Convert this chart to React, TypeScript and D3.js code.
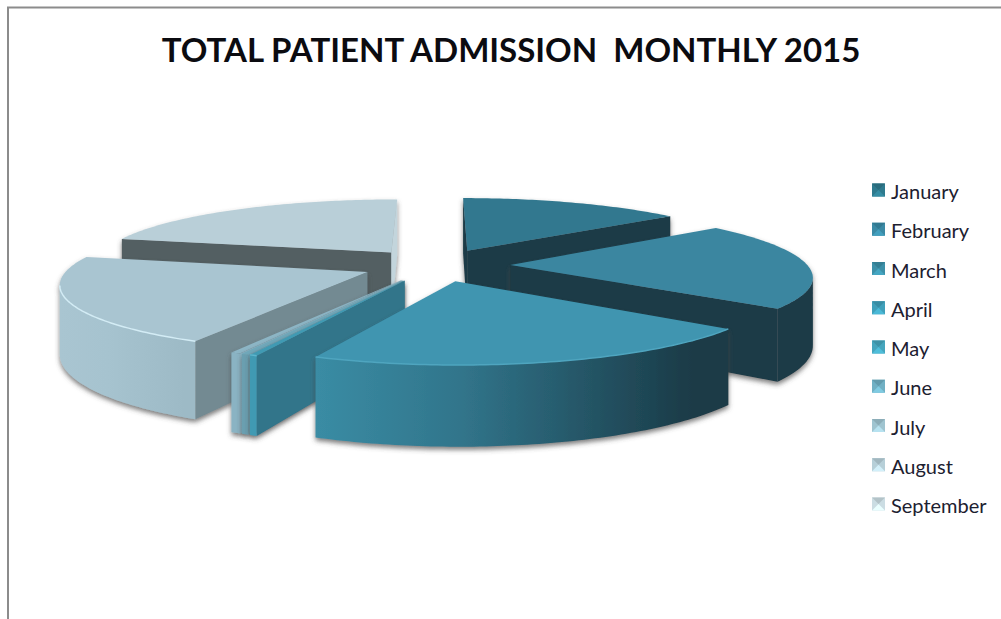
import React from "react";
import * as d3 from "d3";

const months = ["January", "February", "March", "April", "May", "June", "July", "August", "September"];
const admissions = [51.5, 76, 75.5, 1.2, 1.2, 1.6, 76, 76.5, 0];

const topColors = ["#33788f", "#3b86a0", "#3f95b0", "#3f9ab3", "#6fa8ba", "#8db6c6", "#a9c5d1", "#b9cfd8", "#ccdde3"];
const startCutColors = ["#1a3a46", "#1a3a46", "#1a3a46", "#31748a", "#6b9fb0", "#8ab3c3", "#738a92", "#535e62", "#9fb2b9"];
const endCutColors = ["#1a3a46", "#1a3a46", "#1a3a46", "#31748a", "#6b9fb0", "#8ab3c3", "#738a92", "#c3d5dc", "#c3d5dc"];
const rimStops = [
  ["#1a3a46", "#1a3a46", "#1a3a46"],
  ["#1a3a46", "#1a3a46", "#1a3a46"],
  ["#3a8ca4", "#31758b", "#1a3a46"],
  ["#3f9ab3", "#3f9ab3", "#3f9ab3"],
  ["#6b9fb0", "#6b9fb0", "#6b9fb0"],
  ["#8ab3c3", "#8ab3c3", "#8ab3c3"],
  ["#a9c5d1", "#a6c3cf", "#9dbac6"],
  ["#b9cfd8", "#b9cfd8", "#b9cfd8"],
  ["#ccdde3", "#ccdde3", "#ccdde3"],
];
const rimEdges = [null, null, "#4fa5bf", "#5db4cc", null, null, "#d3ecf5", null, null];
const keyColors = ["#2f7a8e", "#3a8aa5", "#3c90a8", "#41a0ba", "#45a5bd", "#6fb0c4", "#9fc4d0", "#b6cfd8", "#cbdde3"];

const width = 1001;
const height = 619;
const explode = 0.25;
const perspective = 0.155;
const thickness = 66;

const xScale = d3.scaleLinear().domain([-1, 1]).range([139, 733]);
const yScale = d3.scaleLinear().domain([-1, 1]).range([200, 330]);
const legendY = d3.scalePoint().domain(months).range([192, 506]);

const line = d3.line();

function project(x: number, y: number): [number, number] {
  const s = 1 / (1 - perspective * y);
  return [xScale(x * s), yScale(y * s)];
}

function drop(x: number, y: number): [number, number] {
  const [px, py] = project(x, y);
  return [px, py + thickness / (1 - perspective * y)];
}

// a wall hanging below one edge of the top face
function wall(pts: [number, number][]) {
  const top = pts.map((p) => project(p[0], p[1]));
  const bottom = pts.map((p) => drop(p[0], p[1])).reverse();
  return line([...top, ...bottom]) + "Z";
}

const pie = d3.pie<number>().sort(null).startAngle(0).endAngle(2 * Math.PI);

function buildSlices() {
  return pie(admissions)
    .map((arc, i) => {
      const mid = (arc.startAngle + arc.endAngle) / 2;
      const ox = explode * Math.sin(mid);
      const oy = -explode * Math.cos(mid);
      const apex: [number, number] = [ox, oy];
      const steps = Math.max(2, Math.ceil((arc.endAngle - arc.startAngle) * 60));
      const rim: [number, number][] = d3
        .range(steps + 1)
        .map((k) => arc.startAngle + ((arc.endAngle - arc.startAngle) * k) / steps)
        .map((a) => [ox + Math.sin(a), oy - Math.cos(a)]);
      const sx = (p: [number, number]) => project(p[0], p[1])[0];
      const first = rim[0];
      const last = rim[rim.length - 1];
      // walls show only where the edge runs right to left on screen
      const front = rim.filter((p, k) => {
        const next = rim[k + 1];
        const prev = rim[k - 1];
        return (next && sx(next) < sx(p)) || (prev && sx(p) < sx(prev));
      });
      const xs = rim.map(sx);
      return {
        i,
        oy,
        value: arc.value,
        startCut: sx(first) < sx(apex) ? wall([apex, first]) : null,
        endCut: sx(apex) < sx(last) ? wall([last, apex]) : null,
        rimWall: front.length > 1 ? wall(front) : null,
        edge: front.length > 1 ? line(front.map((p) => project(p[0], p[1]))) : null,
        top: line([apex, ...rim].map((p) => project(p[0], p[1]))) + "Z",
        x0: d3.min(xs) as number,
        x1: d3.max(xs) as number,
      };
    })
    .filter((s) => s.value > 0)
    .sort((a, b) => d3.ascending(a.oy, b.oy));
}

export default function App() {
  const slices = buildSlices();
  return (
    <svg
      width={width}
      height={height}
      style={{ position: "absolute", left: 0, top: 0, background: "#fff" }}
    >
      <defs>
        <filter id="shade" x="-10%" y="-10%" width="120%" height="130%">
          <feGaussianBlur in="SourceGraphic" stdDeviation="0.5" result="soft" />
          <feDropShadow in="soft" dx="0" dy="3" stdDeviation="2.5" floodColor="#444" floodOpacity="0.7" />
        </filter>
        <filter id="soft" x="-20%" y="-20%" width="140%" height="140%">
          <feGaussianBlur stdDeviation="0.6" />
        </filter>
        {slices.map((s) => (
          <linearGradient
            key={s.i}
            id={`rim${s.i}`}
            gradientUnits="userSpaceOnUse"
            x1={s.x0}
            x2={s.x1}
            y1={0}
            y2={0}
          >
            <stop offset="0" stopColor={rimStops[s.i][0]} />
            <stop offset="0.35" stopColor={rimStops[s.i][1]} />
            <stop offset="0.92" stopColor={rimStops[s.i][2]} />
          </linearGradient>
        ))}
      </defs>

      <path d="M8,619V7.5H1001" fill="none" stroke="#8c8c8c" strokeWidth={2} />

      <text
        x={511}
        y={62}
        textAnchor="middle"
        fontFamily="Lato, 'Open Sans', sans-serif"
        fontWeight={700}
        fontSize={33}
        fill="#0b0b10"
        style={{ whiteSpace: "pre" }}
      >
        TOTAL PATIENT ADMISSION  MONTHLY 2015
      </text>

      {slices.map((s) => (
        <g key={s.i} filter="url(#shade)">
          {s.startCut && <path d={s.startCut} fill={startCutColors[s.i]} />}
          {s.endCut && <path d={s.endCut} fill={endCutColors[s.i]} />}
          {s.rimWall && <path d={s.rimWall} fill={`url(#rim${s.i})`} />}
          <path d={s.top} fill={topColors[s.i]} />
          {s.edge && rimEdges[s.i] && (
            <path d={s.edge} fill="none" stroke={rimEdges[s.i] as string} strokeWidth={1.5} />
          )}
        </g>
      ))}

      {months.map((m, i) => {
        const y = legendY(m) as number;
        const c = d3.color(keyColors[i]) as d3.RGBColor;
        const x0 = 872;
        const size = 13;
        const top = y - 8.5;
        const mid = size / 2;
        const tri = (a: [number, number], b: [number, number]) =>
          line([a, b, [x0 + mid, top + mid]]) + "Z";
        return (
          <g key={m}>
            <g filter="url(#soft)">
              <rect x={x0} y={top} width={size} height={size} fill={keyColors[i]} />
              <path d={tri([x0, top], [x0 + size, top])} fill={c.darker(0.35).toString()} />
              <path d={tri([x0, top + size], [x0 + size, top + size])} fill={c.brighter(0.4).toString()} />
            </g>
            <text
              x={891}
              y={y}
              dy="0.36em"
              fontFamily="Lato, 'Open Sans', sans-serif"
              fontSize={20}
              fill="#1c2030"
            >
              {m}
            </text>
          </g>
        );
      })}
    </svg>
  );
}
